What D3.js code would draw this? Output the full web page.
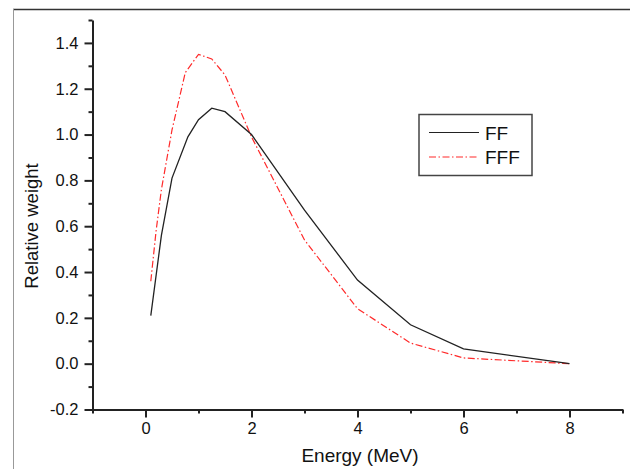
<!DOCTYPE html>
<html>
<head>
<meta charset="utf-8">
<script src="https://cdn.jsdelivr.net/npm/d3@7"></script>
<style>
  body { margin: 0; background: #fff; }
  svg { display: block; font-family: "Liberation Sans", Arial, sans-serif; }
</style>
</head>
<body>
<div id="chart"></div>
<script>
// energies (MeV) and relative weights
var energyFF = [0.1, 0.3, 0.5, 0.8, 1.0, 1.25, 1.5, 2, 3, 4, 5, 6, 8];
var weightFF = [0.21, 0.56, 0.81, 0.99, 1.065, 1.115, 1.10, 1.0, 0.67, 0.365, 0.17, 0.065, 0.0];
var energyFFF = [0.1, 0.2, 0.3, 0.5, 0.75, 1.0, 1.25, 1.5, 2, 3, 4, 5, 6, 8];
var weightFFF = [0.36, 0.58, 0.76, 1.02, 1.27, 1.35, 1.33, 1.26, 0.99, 0.54, 0.24, 0.09, 0.025, 0.0];
var seriesNames = ["FF", "FFF"];
var xMajor = [0, 2, 4, 6, 8];
var xMinor = [-1, 1, 3, 5, 7, 9];
var yMajor = [-0.2, 0, 0.2, 0.4, 0.6, 0.8, 1.0, 1.2, 1.4];
var yMinor = [-0.1, 0.1, 0.3, 0.5, 0.7, 0.9, 1.1, 1.3, 1.5];

var W = 631, H = 469;

var svg = d3.select("#chart").append("svg")
    .attr("width", W)
    .attr("height", H);

// outer frame bits
svg.append("line")
    .attr("x1", 13).attr("x2", 630).attr("y1", 9.5).attr("y2", 9.5)
    .attr("stroke", "#333").attr("stroke-width", 1.6);
svg.append("line")
    .attr("x1", 13.5).attr("x2", 13.5).attr("y1", 9).attr("y2", H)
    .attr("stroke", "#999").attr("stroke-width", 1);

var x = d3.scaleLinear().domain([-1, 9]).range([92.5, 622.5]);
var y = d3.scaleLinear().domain([-0.2, 1.5]).range([409.5, 20]);

var fmt = d3.format(".1f");

// minor ticks first, then major axes on top
svg.append("g")
    .attr("transform", "translate(0," + y(-0.2) + ")")
    .call(d3.axisBottom(x).tickValues(xMinor).tickSize(4).tickSizeOuter(0).tickFormat(""))
    .call(function(g) { g.select(".domain").remove(); });
svg.append("g")
    .attr("transform", "translate(" + x(-1) + ",0)")
    .call(d3.axisLeft(y).tickValues(yMinor).tickSize(4).tickSizeOuter(0).tickFormat(""))
    .call(function(g) { g.select(".domain").remove(); });

var xAxis = svg.append("g")
    .attr("transform", "translate(0," + y(-0.2) + ")")
    .call(d3.axisBottom(x).tickValues(xMajor).tickSize(8).tickSizeOuter(0).tickPadding(5));
var yAxis = svg.append("g")
    .attr("transform", "translate(" + x(-1) + ",0)")
    .call(d3.axisLeft(y).tickValues(yMajor).tickSize(8).tickSizeOuter(0).tickPadding(6)
        .tickFormat(function(d) { return fmt(d).replace("\u2212", "-"); }));

svg.selectAll(".tick line").attr("stroke", "#222").attr("stroke-width", 2);
svg.selectAll(".domain").attr("stroke", "#222").attr("stroke-width", 2);
svg.selectAll(".tick text")
    .attr("fill", "#111")
    .style("font-size", "16.5px")
    .style("font-family", "'Liberation Sans', Arial, sans-serif");

// axis titles
svg.append("text")
    .attr("x", 360).attr("y", 462)
    .attr("text-anchor", "middle")
    .style("font-size", "19px")
    .attr("fill", "#111")
    .text("Energy (MeV)");
svg.append("text")
    .attr("transform", "translate(38,226) rotate(-90)")
    .attr("text-anchor", "middle")
    .style("font-size", "18.5px")
    .attr("fill", "#111")
    .text("Relative weight");

// curves
var line = d3.line()
    .x(function(d) { return x(d[0]); })
    .y(function(d) { return y(d[1]); });

var ff = d3.zip(energyFF, weightFF);
var fff = d3.zip(energyFFF, weightFFF);

svg.append("path")
    .datum(fff)
    .attr("d", line)
    .attr("fill", "none")
    .attr("stroke", "#ff2a2a")
    .attr("stroke-width", 1.2)
    .attr("stroke-dasharray", "7,2.5,1.5,2.5");

svg.append("path")
    .datum(ff)
    .attr("d", line)
    .attr("fill", "none")
    .attr("stroke", "#222")
    .attr("stroke-width", 1.3);

// legend
var legend = svg.append("g");
legend.append("rect")
    .attr("x", 419).attr("y", 114.5)
    .attr("width", 113).attr("height", 61)
    .attr("fill", "#fff")
    .attr("stroke", "#444")
    .attr("stroke-width", 1.5);

var legendStyles = [
    {stroke: "#222", dash: null},
    {stroke: "#ff2a2a", dash: "7,2.5,1.5,2.5"}
];
seriesNames.forEach(function(name, i) {
    var ly = 132.5 + i * 24.5;
    legend.append("line")
        .attr("x1", 429).attr("x2", 479)
        .attr("y1", ly).attr("y2", ly)
        .attr("stroke", legendStyles[i].stroke)
        .attr("stroke-width", 1.2)
        .attr("stroke-dasharray", legendStyles[i].dash);
    legend.append("text")
        .attr("x", 485).attr("y", ly + 7)
        .style("font-size", "19px")
        .attr("fill", "#111")
        .text(name);
});
</script>
</body>
</html>
